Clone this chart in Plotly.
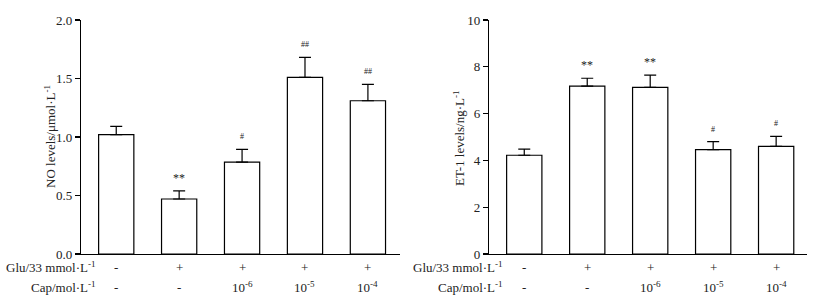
import plotly.graph_objects as go

W, H = 820, 303

groups = [0, 1, 2, 3, 4]
glu_labels = ["-", "+", "+", "+", "+"]
cap_labels = ["-", "-", "10<sup>-6</sup>", "10<sup>-5</sup>", "10<sup>-4</sup>"]

no_values = [1.02, 0.47, 0.785, 1.51, 1.31]
no_errors = [0.07, 0.07, 0.11, 0.17, 0.14]
no_marks = ["", "**", "#", "##", "##"]

et_values = [4.22, 7.17, 7.12, 4.46, 4.60]
et_errors = [0.26, 0.34, 0.52, 0.34, 0.43]
et_marks = ["", "**", "**", "#", "#"]

FONT = "Liberation Serif"
TXT = "#222222"

def px(x):
    return x / W

def py(y):
    return 1 - y / H

fig = go.Figure()

panels = [
    ("x", "y", no_values, no_errors, no_marks),
    ("x2", "y2", et_values, et_errors, et_marks),
]

for xa, ya, vals, errs, marks in panels:
    fig.add_trace(go.Bar(
        x=groups, y=vals, xaxis=xa, yaxis=ya, width=0.56,
        marker=dict(color="white", line=dict(color="black", width=1.2)),
        error_y=dict(type="data", symmetric=False, array=errs,
                     arrayminus=[0] * len(errs), color="black",
                     thickness=1.2, width=6),
        showlegend=False, hoverinfo="skip",
    ))
    for g, v, e, m in zip(groups, vals, errs, marks):
        if m:
            star = m.startswith("*")
            fig.add_annotation(
                x=g, y=v + e, xref=xa, yref=ya, text=m, showarrow=False,
                xanchor="center", yanchor="bottom", yshift=4 if star else 6,
                font=dict(family=FONT, size=12 if star else 8, color=TXT),
            )

axis_common = dict(showline=True, linecolor="black", linewidth=1.2,
                   showgrid=False, zeroline=False, mirror=False)

fig.update_layout(
    width=W, height=H,
    margin=dict(l=0, r=0, t=0, b=0, autoexpand=False),
    paper_bgcolor="white", plot_bgcolor="white",
    bargap=0,
    xaxis=dict(domain=[px(81), px(400)], range=[-0.56, 4.51],
               showticklabels=False, ticks="", anchor="y", **axis_common),
    yaxis=dict(domain=[py(254), py(20)], range=[0, 2.0],
               tickvals=[0, 0.5, 1.0, 1.5, 2.0],
               ticktext=["0.0", "0.5", "1.0", "1.5", "2.0"],
               ticks="outside", ticklen=5, tickwidth=1.2, tickcolor="black",
               tickfont=dict(family=FONT, size=13, color=TXT),
               anchor="x", **axis_common),
    xaxis2=dict(domain=[px(489), px(807)], range=[-0.56, 4.49],
                showticklabels=False, ticks="", anchor="y2", **axis_common),
    yaxis2=dict(domain=[py(254), py(20)], range=[0, 10],
                tickvals=[0, 2, 4, 6, 8, 10],
                ticks="outside", ticklen=5, tickwidth=1.2, tickcolor="black",
                tickfont=dict(family=FONT, size=13, color=TXT),
                anchor="x2", **axis_common),
)

# axis titles
fig.add_annotation(x=px(50), y=py(137), xref="paper", yref="paper",
                   xanchor="center", yanchor="middle",
                   text="NO levels/μmol·L<sup>-1</sup>", textangle=-90,
                   showarrow=False, font=dict(family=FONT, size=13, color=TXT))
fig.add_annotation(x=px(459), y=py(138), xref="paper", yref="paper",
                   xanchor="center", yanchor="middle",
                   text="ET-1 levels/ng·L<sup>-1</sup>", textangle=-90,
                   showarrow=False, font=dict(family=FONT, size=13, color=TXT))

# row labels and treatment labels
for xa, right in (("x", 98), ("x2", 505)):
    fig.add_annotation(x=px(right), y=py(267), xref="paper", yref="paper",
                       text="Glu/33 mmol·L<sup>-1</sup>",
                       xanchor="right", yanchor="middle",
                       showarrow=False, font=dict(family=FONT, size=13, color=TXT))
    fig.add_annotation(x=px(right), y=py(287), xref="paper", yref="paper",
                       text="Cap/mol·L<sup>-1</sup>",
                       xanchor="right", yanchor="middle",
                       showarrow=False, font=dict(family=FONT, size=13, color=TXT))
    for g, gl, cl in zip(groups, glu_labels, cap_labels):
        fig.add_annotation(x=g, y=py(267), xref=xa, yref="paper", text=gl,
                           xanchor="center", yanchor="middle",
                           showarrow=False, font=dict(family=FONT, size=13, color=TXT))
        fig.add_annotation(x=g, y=py(287), xref=xa, yref="paper", text=cl,
                           xanchor="center", yanchor="middle",
                           showarrow=False, font=dict(family=FONT, size=13, color=TXT))

fig.write_html("out.html",
               config={"displayModeBar": False, "staticPlot": True},
               post_script="document.body.style.margin='0';document.body.style.padding='0';")
